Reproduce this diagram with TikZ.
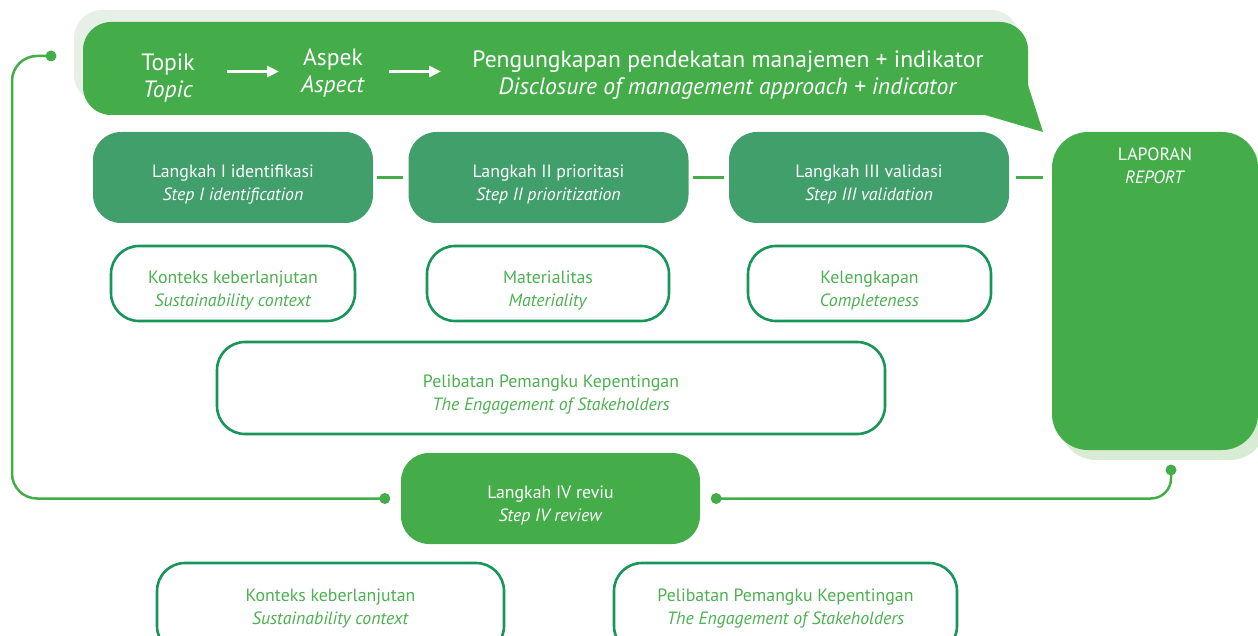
\documentclass[tikz,border=0pt]{standalone}
\usepackage{fontspec}
\setmainfont{PT Sans}
\usetikzlibrary{arrows.meta,calc}

\definecolor{bannerGreen}{HTML}{44AD4A}
\definecolor{stepGreen}{HTML}{409F6B}
\definecolor{rimGreen}{HTML}{17965A}
\definecolor{textGreen}{HTML}{4DB151}
\definecolor{shadeTop}{HTML}{E7F0E6}
\definecolor{shadeRep}{HTML}{D8EBD4}

\def\bigfont{\fontsize{23.6}{27}\selectfont}
\def\boxfont{\fontsize{17.8}{23}\selectfont}

\tikzset{
  stepbox/.style={fill=stepGreen, rounded corners=28pt, minimum width=280pt, minimum height=91pt},
  greenbox/.style={fill=bannerGreen, rounded corners=28pt},
  rimbox/.style={draw=rimGreen, line width=2.6pt, fill=white, rounded corners=28pt},
  whitetext/.style={text=white, align=center, inner sep=0pt, font=\boxfont},
  greentext/.style={text=textGreen, align=center, inner sep=0pt, font=\boxfont},
  bigtext/.style={text=white, align=center, inner sep=0pt, font=\bigfont},
  flow/.style={draw=white, line width=3pt, -{Triangle[length=12pt,width=11pt]}},
  link/.style={draw=bannerGreen, line width=3pt, shorten <=4pt, shorten >=5pt},
  feedback/.style={draw=bannerGreen, line width=2.5pt},
}

\begin{document}
\begin{tikzpicture}[x=1pt,y=-1pt]
		%%%%% START %%%%%
		\useasboundingbox (0,0) rectangle (1258,636);
		\clip (0,0) rectangle (1258,636);
		
		% banner with its tail
		\fill[shadeTop, rounded corners=28pt] (74,10) rectangle (1019,103);
		\fill[bannerGreen, rounded corners=28pt] (83,22) rectangle (1028,115);
		\fill[bannerGreen] (1028,85) -- (1043,132) -- (985,115) -- (985,85) -- cycle;
		
		\node[bigtext] (topik) at (168,78) {Topik\\\textit{Topic}};
		\node[bigtext] (aspek) at (333,72.5) {Aspek\\\textit{Aspect}};
		\node[bigtext] (pdm) at (728,75) {Pengungkapan pendekatan manajemen + indikator\\\textit{Disclosure of management approach + indicator}};
		\draw[flow] ([xshift=-106pt,yshift=1pt]aspek.center) -- ([xshift=-54pt,yshift=1pt]aspek.center);
		\draw[flow] ([xshift=56pt,yshift=1pt]aspek.center) -- ([xshift=108pt,yshift=1pt]aspek.center);
		
		% report
		\fill[shadeRep, rounded corners=36pt] (1060,142) rectangle (1266,460);
		\node[greenbox, rounded corners=36pt, minimum width=206pt, minimum height=318pt] (rep) at (1155,291) {};
		\node[whitetext] (rept) at ([yshift=-34pt]rep.north) {LAPORAN\\\textit{REPORT}};
		
		% steps
		\node[stepbox] (s1) at (233,177.5) {};
		\node[stepbox] (s2) at (548.5,177.5) {};
		\node[stepbox] (s3) at (869,177.5) {};
		\node[whitetext] (s1t) at ([yshift=-7pt]s1.center) {Langkah I identifikasi\\\textit{Step I identification}};
		\node[whitetext] (s2t) at ([yshift=-7pt]s2.center) {Langkah II prioritasi\\\textit{Step II prioritization}};
		\node[whitetext] (s3t) at ([yshift=-7pt]s3.center) {Langkah III validasi\\\textit{Step III validation}};
		\draw[link] (s1) -- (s2);
		\draw[link] (s2) -- (s3);
		\draw[link, shorten <=7pt, shorten >=9pt] (s3.east) -- (s3.east -| rep.west);
		
		% principles
		\node[rimbox, minimum width=244pt, minimum height=75pt] (k1) at (233,283.5) {};
		\node[rimbox, minimum width=242pt, minimum height=75pt] (mat) at (548,283.5) {};
		\node[rimbox, minimum width=243pt, minimum height=75pt] (kel) at (869.5,283.5) {};
		\node[greentext] (k1t) at ([yshift=-7pt]k1.center) {Konteks keberlanjutan\\\textit{Sustainability context}};
		\node[greentext] (matt) at ([yshift=-7pt]mat.center) {Materialitas\\\textit{Materiality}};
		\node[greentext] (kelt) at ([yshift=-7pt]kel.center) {Kelengkapan\\\textit{Completeness}};
		
		\node[rimbox, minimum width=668pt, minimum height=92pt] (pel) at (551,388) {};
		\node[greentext] (pelt) at ([yshift=-7pt]pel.center) {Pelibatan Pemangku Kepentingan\\\textit{The Engagement of Stakeholders}};
		
		% review
		\node[greenbox, minimum width=299pt, minimum height=91pt] (s4) at (550.5,498.5) {};
		\node[whitetext] (s4t) at ([yshift=-7pt]s4.center) {Langkah IV reviu\\\textit{Step IV review}};
		
		\node[rimbox, minimum width=347pt, minimum height=91pt] (k2) at (330.5,608.5) {};
		\node[rimbox, minimum width=343pt, minimum height=91pt] (pel2) at (785.5,608.5) {};
		\node[greentext] (k2t) at (k2.center) {Konteks keberlanjutan\\\textit{Sustainability context}};
		\node[greentext] (pel2t) at (pel2.center) {Pelibatan Pemangku Kepentingan\\\textit{The Engagement of Stakeholders}};
		
		% feedback loops
		\coordinate (dotL) at ([xshift=-16pt]s4.west);
		\coordinate (dotT) at (51,56);
		\coordinate (dotR) at ([xshift=16pt]s4.east);
		\coordinate (dotRep) at (1171,470);
		\draw[feedback, rounded corners=25pt] (dotL) -| (12,56) -- (dotT);
		\draw[feedback, rounded corners=20pt] (dotR) -| (dotRep);
		\foreach \d in {dotL,dotT,dotR,dotRep}
		  \fill[bannerGreen] (\d) circle (5.5pt);
		
		%%%%% END %%%%%
	\end{tikzpicture}
\end{document}
